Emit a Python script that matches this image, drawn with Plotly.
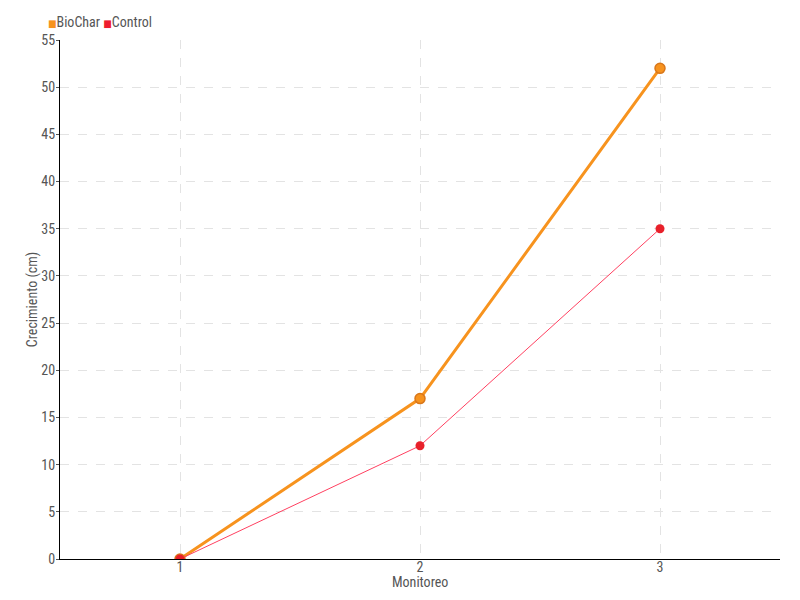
import plotly.graph_objects as go

monitoreo = [1, 2, 3]
biochar = [0, 17, 52]
control = [0, 12, 35]
series_names = ["BioChar", "Control"]
series_colors = ["#f7931e", "#ee1c2e"]

font_family = "Roboto Condensed, DejaVu Sans Condensed, Roboto, sans-serif"
text_color = "#555555"

fig = go.Figure()
fig.add_trace(go.Scatter(
    x=monitoreo, y=biochar, mode="lines+markers", name=series_names[0], showlegend=False,
    line=dict(color="#f7931e", width=3),
    marker=dict(size=10, color="#f7931e", line=dict(color="#d9771a", width=1.5)),
))
fig.add_trace(go.Scatter(
    x=monitoreo, y=control, mode="lines+markers", name=series_names[1], showlegend=False,
    line=dict(color="#ff4060", width=1),
    marker=dict(size=9, color="#e8202a", line=dict(color="#e8202a", width=0)),
))

legend_html = " ".join(
    f"<span style='color:{c};font-size:10px'>■</span>{n}" for n, c in zip(series_names, series_colors)
)
fig.add_annotation(text=legend_html, xref="paper", yref="paper", x=-0.019, y=1.0,
                   yshift=18, xanchor="left", yanchor="middle", showarrow=False,
                   font=dict(size=14, color=text_color))
fig.add_annotation(text="Monitoreo", xref="paper", yref="paper", x=0.5, y=0.0,
                   yshift=-23, xanchor="center", yanchor="middle", showarrow=False,
                   font=dict(size=14, color=text_color))

fig.update_layout(
    width=800, height=600,
    margin=dict(l=60, r=20, t=40, b=41, autoexpand=False),
    paper_bgcolor="white", plot_bgcolor="white",
    font=dict(family=font_family, size=14, color=text_color),
    showlegend=False,
    xaxis=dict(
        range=[0.5, 3.5], tickmode="array", tickvals=monitoreo, ticktext=[str(v) for v in monitoreo],
        showline=True, linecolor="black", linewidth=1, automargin=False,
        showgrid=True, gridcolor="#e3e3e3", griddash="dash", gridwidth=1,
        ticks="", zeroline=False, ticklabelstandoff=-5,
    ),
    yaxis=dict(
        range=[0, 55], dtick=5, automargin=False,
        showline=True, linecolor="black", linewidth=1,
        showgrid=True, gridcolor="#e3e3e3", griddash="dash", gridwidth=1,
        ticks="outside", ticklen=3, tickcolor="#555555", zeroline=False, ticklabelstandoff=-2,
        title=dict(text="Crecimiento (cm)", standoff=0, font=dict(size=14)),
    ),
)

fig.write_html("out.html", post_script="document.body.style.margin='0';",
               config={"displayModeBar": False})
